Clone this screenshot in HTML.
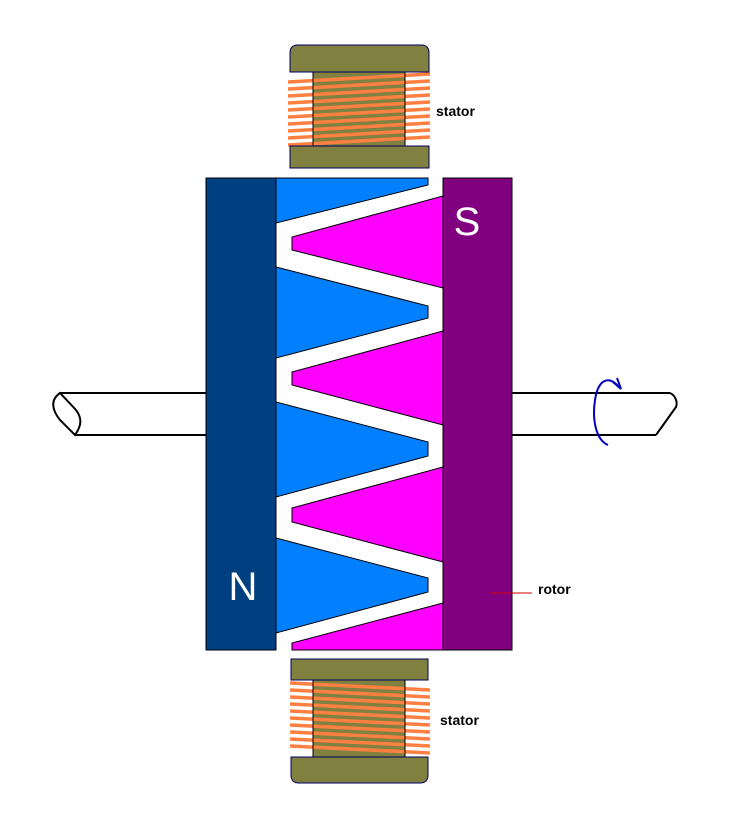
<!DOCTYPE html>
<html><head><meta charset="utf-8"><style>html,body{margin:0;padding:0;background:#fff}svg{display:block}</style></head><body>
<svg width="752" height="832" viewBox="0 0 752 832" xmlns="http://www.w3.org/2000/svg" font-family="Liberation Sans, sans-serif">
<!-- shafts -->
<g fill="none" stroke="#000" stroke-width="2">
<line x1="60" y1="393" x2="206" y2="393"/><line x1="75" y1="435" x2="206" y2="435"/>
<path d="M60,393 C50,400 52,410 60,420 L75,435 C82,425 82,418 76,410 Z" fill="#fff"/>
<line x1="512" y1="393" x2="670" y2="393"/><line x1="512" y1="435" x2="656" y2="435"/>
<path d="M670,393 C675,395 678,402 676,407 L656,435"/>
</g>
<path d="M618,386 C608,375 598,380 595,400 C592,420 596,440 608,445" fill="none" stroke="#0000c0" stroke-width="2"/>
<path d="M612,381 L621,389 L617,378" fill="none" stroke="#0000c0" stroke-width="2"/>
<!-- bars -->
<rect x="206" y="178" width="70" height="472" fill="#004080" stroke="#000" stroke-width="1"/>
<rect x="443" y="178" width="69" height="472" fill="#800080" stroke="#000" stroke-width="1"/>
<g stroke="#000" stroke-width="1">
<polygon points="276,178 428,178 428,185 276,223" fill="#0080ff"/>
<polygon points="276,267 428,306 428,318 276,358" fill="#0080ff"/>
<polygon points="276,402 428,442 428,456 276,497" fill="#0080ff"/>
<polygon points="276,538 428,578 428,592 276,633" fill="#0080ff"/>
<polygon points="443,196 292,237 292,250 443,288" fill="#ff00ff"/>
<polygon points="443,331 292,372 292,385 443,425" fill="#ff00ff"/>
<polygon points="443,467 292,508 292,522 443,562" fill="#ff00ff"/>
<polygon points="443,603 292,643 292,650 443,650" fill="#ff00ff"/>
</g>
<text x="467" y="235" font-size="40" fill="#fff" text-anchor="middle">S</text>
<text x="243" y="600" font-size="40" fill="#fff" text-anchor="middle">N</text>
<line x1="490" y1="593" x2="532" y2="593" stroke="#d00000" stroke-width="1"/>
<text x="538" y="594" font-size="14" font-weight="bold" fill="#000">rotor</text>
<text x="436" y="116" font-size="14" font-weight="bold" fill="#000">stator</text>
<text x="440" y="725" font-size="14" font-weight="bold" fill="#000">stator</text>
<!-- top stator -->
<rect x="313" y="72" width="92" height="74" fill="#808040"/>
<g stroke="#ff8040" stroke-width="3.5">
<line x1="288" y1="82" x2="430" y2="74"/><line x1="288" y1="89" x2="430" y2="81"/>
<line x1="288" y1="96" x2="430" y2="88"/><line x1="288" y1="103" x2="430" y2="95"/>
<line x1="288" y1="110" x2="430" y2="102"/><line x1="288" y1="117" x2="430" y2="109"/>
<line x1="288" y1="124" x2="430" y2="116"/><line x1="288" y1="131" x2="430" y2="123"/>
<line x1="288" y1="138" x2="430" y2="130"/><line x1="288" y1="145" x2="430" y2="137"/>
</g>
<path d="M290,72 L290,53 Q290,45 298,45 L421,45 Q429,45 429,53 L429,72 Z" fill="#808040" stroke="#000060"/>
<rect x="290" y="146" width="139" height="22" fill="#808040" stroke="#000060"/>
<line x1="313" y1="72" x2="313" y2="146" stroke="#000" stroke-width="1"/>
<line x1="405" y1="72" x2="405" y2="146" stroke="#000" stroke-width="1"/>
<!-- bottom stator -->
<rect x="313" y="680" width="92" height="77" fill="#808040"/>
<g stroke="#ff8040" stroke-width="3.5">
<line x1="290" y1="683" x2="430" y2="690"/><line x1="290" y1="690" x2="430" y2="697"/>
<line x1="290" y1="697" x2="430" y2="704"/><line x1="290" y1="704" x2="430" y2="711"/>
<line x1="290" y1="711" x2="430" y2="718"/><line x1="290" y1="718" x2="430" y2="725"/>
<line x1="290" y1="725" x2="430" y2="732"/><line x1="290" y1="732" x2="430" y2="739"/>
<line x1="290" y1="739" x2="430" y2="746"/><line x1="290" y1="746" x2="430" y2="753"/>
</g>
<rect x="291" y="659" width="137" height="21" fill="#808040" stroke="#000060"/>
<path d="M291,757 L428,757 L428,775 Q428,783 420,783 L299,783 Q291,783 291,775 Z" fill="#808040" stroke="#000060"/>
<line x1="313" y1="680" x2="313" y2="757" stroke="#000" stroke-width="1"/>
<line x1="405" y1="680" x2="405" y2="757" stroke="#000" stroke-width="1"/>
</svg>
</body></html>
